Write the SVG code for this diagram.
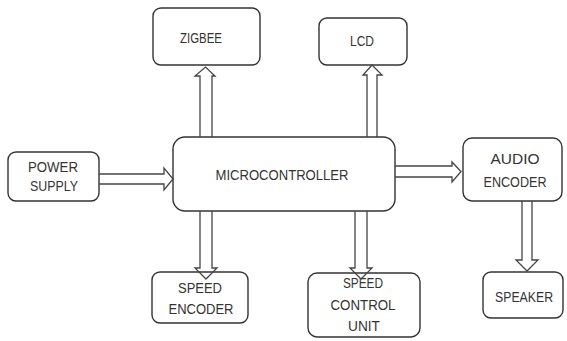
<svg xmlns="http://www.w3.org/2000/svg" width="567" height="341" viewBox="0 0 567 341">
<style>
.box{fill:#fff;stroke:#333;stroke-width:1.4}
.arr{fill:none;stroke:#444;stroke-width:1.3;stroke-linejoin:miter}
text{font-family:"Liberation Sans",Arial,sans-serif;font-size:14px;fill:#333;text-anchor:middle}
</style>
<rect width="567" height="341" fill="#fff"/>
<g id="zigbee"><rect class="box" x="153" y="8" width="107" height="57" rx="8"/><text x="201" y="43" textLength="42" lengthAdjust="spacingAndGlyphs">ZIGBEE</text></g>
<g id="lcd"><rect class="box" x="319" y="18" width="88" height="47" rx="8"/><text x="362" y="46" textLength="24" lengthAdjust="spacingAndGlyphs">LCD</text></g>
<g id="power-supply"><rect class="box" x="8" y="152" width="91" height="49" rx="8"/><text x="53" y="172" textLength="50" lengthAdjust="spacingAndGlyphs">POWER</text><text x="54" y="191" textLength="48" lengthAdjust="spacingAndGlyphs">SUPPLY</text></g>
<g id="microcontroller"><rect class="box" x="173" y="137" width="222" height="74" rx="12"/><text x="282" y="180" textLength="133" lengthAdjust="spacingAndGlyphs">MICROCONTROLLER</text></g>
<g id="audio-encoder"><rect class="box" x="463" y="138" width="99" height="63" rx="9"/><text x="515" y="164" textLength="49" lengthAdjust="spacingAndGlyphs">AUDIO</text><text x="515" y="187" textLength="63" lengthAdjust="spacingAndGlyphs">ENCODER</text></g>
<g id="speed-encoder"><rect class="box" x="152" y="272" width="96" height="51" rx="8"/><text x="200" y="293" textLength="44" lengthAdjust="spacingAndGlyphs">SPEED</text><text x="201" y="314" textLength="65" lengthAdjust="spacingAndGlyphs">ENCODER</text></g>
<g id="speed-control-unit"><rect class="box" x="308" y="273" width="112" height="64" rx="9"/><text x="363" y="288" textLength="40" lengthAdjust="spacingAndGlyphs">SPEED</text><text x="363" y="310" textLength="65" lengthAdjust="spacingAndGlyphs">CONTROL</text><text x="364" y="331" textLength="32" lengthAdjust="spacingAndGlyphs">UNIT</text></g>
<g id="speaker"><rect class="box" x="483" y="272" width="80" height="46" rx="8"/><text x="524" y="302" textLength="58" lengthAdjust="spacingAndGlyphs">SPEAKER</text></g>
<g id="connectors">
<polyline class="arr" points="200,137 200,76 195,76 205.5,67 215,76 212,76 212,137"/>
<polyline class="arr" points="367,137 367,75 363,75 372,65 382,75 377,75 377,137"/>
<polyline class="arr" points="200,211 200,268 195,268 206,279 217,268 212,268 212,211"/>
<polyline class="arr" points="355,211 355,268 350,268 361,279 372,268 367,268 367,211"/>
<polyline class="arr" points="522,201 522,260 516,260 527,271 538,260 532,260 532,201"/>
<polyline class="arr" points="99,174 164,174 164,168 173,179 164,190 164,184 99,184"/>
<polyline class="arr" points="395,166 452,166 452,162 461,171.5 452,182 452,177 395,177"/>
</g>
</svg>
